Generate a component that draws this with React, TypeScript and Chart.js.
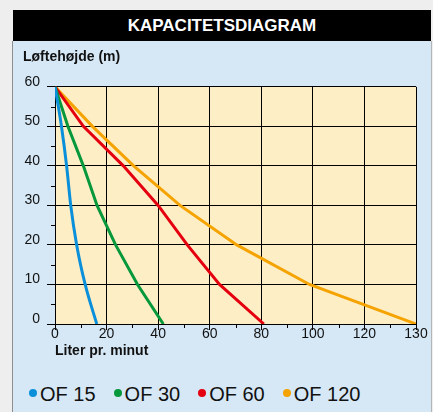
import React, { useEffect, useRef } from "react";
import { Chart, registerables } from "chart.js";

Chart.register(...registerables);

// ---- data ----
const heads = [60, 50, 40, 30, 20, 10, 0]; // Løftehøjde (m)
const of15Flow = [0, 2.5, 4.5, 6.1, 8.4, 11.7, 16.2];
const of30Flow = [0, 5.0, 11.0, 16.3, 23.5, 32.0, 42.0];
const of60Flow = [0, 11.0, 26.5, 40.0, 51.3, 63.8, 81.0];
// the last axis interval (120 -> "130") is drawn as wide as a 20-unit step
const of120Flow = [0, 14.5, 30.5, 48.5, 70.5, 98.7, 140];
const seriesNames = ["OF 15", "OF 30", "OF 60", "OF 120"];
const seriesColors = ["#0a8fda", "#07983c", "#e4000f", "#f5a300"];
const xTickLabels: Record<number, string> = {
  0: "0", 20: "20", 40: "40", 60: "60", 80: "80", 100: "100", 120: "120", 140: "130",
};
const yTickValues = [0, 10, 20, 30, 40, 50, 60];

const FONT = "'Liberation Sans', Arial, Helvetica, sans-serif";
const PLOT_BG = "#fdeec6";
const PANEL_BG = "#d6e8f6";

export default function App() {
  const ref = useRef<HTMLCanvasElement>(null);

  useEffect(() => {
    document.body.style.margin = "0";
    const flows = [of15Flow, of30Flow, of60Flow, of120Flow];

    const plotBg = {
      id: "plotBg",
      beforeDraw(chart: any) {
        const { ctx, chartArea: a } = chart;
        ctx.save();
        ctx.fillStyle = PLOT_BG;
        ctx.fillRect(a.left, a.top, a.right - a.left, a.bottom - a.top);
        ctx.restore();
      },
    };
    const minorTicks = {
      id: "minorTicks",
      afterDraw(chart: any) {
        const { ctx, chartArea: a, scales } = chart;
        ctx.save();
        ctx.strokeStyle = "#000";
        ctx.lineWidth = 1;
        ctx.beginPath();
        scales.y.ticks.forEach((t: any) => {
          if (t.value % 10 !== 0) {
            const y = Math.round(scales.y.getPixelForValue(t.value)) + 0.5;
            ctx.moveTo(a.left - 4, y);
            ctx.lineTo(a.left, y);
          }
        });
        scales.x.ticks.forEach((t: any) => {
          if (t.value % 20 !== 0) {
            const x = Math.round(scales.x.getPixelForValue(t.value)) + 0.5;
            ctx.moveTo(x, a.bottom);
            ctx.lineTo(x, a.bottom + 4);
          }
        });
        ctx.stroke();
        ctx.restore();
      },
    };

    const chart = new Chart(ref.current as HTMLCanvasElement, {
      type: "line",
      data: {
        datasets: seriesNames.map((name, i) => ({
          label: name,
          data: flows[i].map((f, j) => ({ x: f, y: heads[j] })),
          borderColor: seriesColors[i],
          backgroundColor: seriesColors[i],
          borderWidth: 3,
          pointRadius: 0,
          fill: false,
          tension: 0,
          cubicInterpolationMode: i === 0 ? "monotone" : "default",
        })),
      },
      options: {
        animation: false,
        responsive: false,
        layout: { padding: { left: 10, right: 15, top: 0, bottom: 11 } },
        plugins: {
          legend: { display: false },
          tooltip: { enabled: false },
          title: {
            display: true,
            text: "Løftehøjde (m)",
            align: "start",
            color: "#111",
            font: { family: FONT, size: 14, weight: "bold" },
            padding: { top: 8, bottom: 21 },
          },
        },
        scales: {
          x: {
            type: "linear",
            min: 0,
            max: 140,
            afterFit: (s: any) => {
              s.height = 36;
            },
            grid: {
              color: (c: any) => (c.tick && c.tick.value % 20 === 0 ? "#000" : "rgba(0,0,0,0)"),
              tickColor: (c: any) => (c.tick && c.tick.value % 20 === 0 ? "#000" : "rgba(0,0,0,0)"),
              tickLength: 6,
              lineWidth: 1,
            },
            border: { color: "#000", width: 1 },
            ticks: {
              stepSize: 10,
              autoSkip: false,
              maxRotation: 0,
              padding: -4,
              color: "#111",
              font: { family: FONT, size: 14 },
              callback: (v: any) => xTickLabels[v as number] ?? "",
            },
            title: {
              display: true,
              text: "Liter pr. minut",
              align: "start",
              color: "#111",
              font: { family: FONT, size: 14, weight: "bold" },
              padding: { top: 0, bottom: 0 },
            },
          },
          y: {
            type: "linear",
            min: 0,
            max: 60,
            afterFit: (s: any) => {
              s.width = 32;
            },
            grid: {
              color: (c: any) => (c.tick && c.tick.value % 10 === 0 ? "#000" : "rgba(0,0,0,0)"),
              tickColor: (c: any) => (c.tick && c.tick.value % 10 === 0 ? "#000" : "rgba(0,0,0,0)"),
              tickLength: 8,
              lineWidth: 1,
            },
            border: { color: "#000", width: 1 },
            ticks: {
              stepSize: 5,
              autoSkip: false,
              padding: 7,
              labelOffset: -5,
              color: "#111",
              font: { family: FONT, size: 14 },
              callback: (v: any) => (yTickValues.includes(v as number) ? String(v) : ""),
            },
          },
        },
      },
      plugins: [plotBg, minorTicks],
    } as any);
    return () => chart.destroy();
  }, []);

  return (
    <div
      style={{
        position: "relative",
        width: 433,
        height: 412,
        overflow: "hidden",
        background: "#eeeeee",
        fontFamily: FONT,
      }}
    >
      <div
        style={{
          position: "absolute",
          left: 12,
          top: 41,
          width: 418,
          height: 400,
          background: PANEL_BG,
          borderLeft: "1px solid #8e8e8e",
          borderRight: "1px solid #b5b5b5",
        }}
      />
      <div
        style={{
          position: "absolute",
          left: 13,
          top: 10,
          width: 418,
          height: 31,
          background: "#000",
          color: "#fff",
          fontWeight: "bold",
          fontSize: 17,
          lineHeight: "31px",
          textAlign: "center",
        }}
      >
        KAPACITETSDIAGRAM
      </div>
      <canvas
        ref={ref}
        width={418}
        height={330}
        style={{ position: "absolute", left: 13, top: 41, width: 418, height: 330 }}
      />
      <div
        style={{
          position: "absolute",
          left: 29,
          top: 381,
          display: "flex",
          alignItems: "center",
          gap: 18,
          fontSize: 20,
          lineHeight: "26px",
          color: "#111",
        }}
      >
        {seriesNames.map((n, i) => (
          <div key={n} style={{ display: "flex", alignItems: "center" }}>
            <span
              style={{
                display: "inline-block",
                width: 8,
                height: 8,
                borderRadius: "50%",
                background: seriesColors[i],
                marginRight: 3,
                marginTop: -2,
              }}
            />
            <span>{n}</span>
          </div>
        ))}
      </div>
    </div>
  );
}
